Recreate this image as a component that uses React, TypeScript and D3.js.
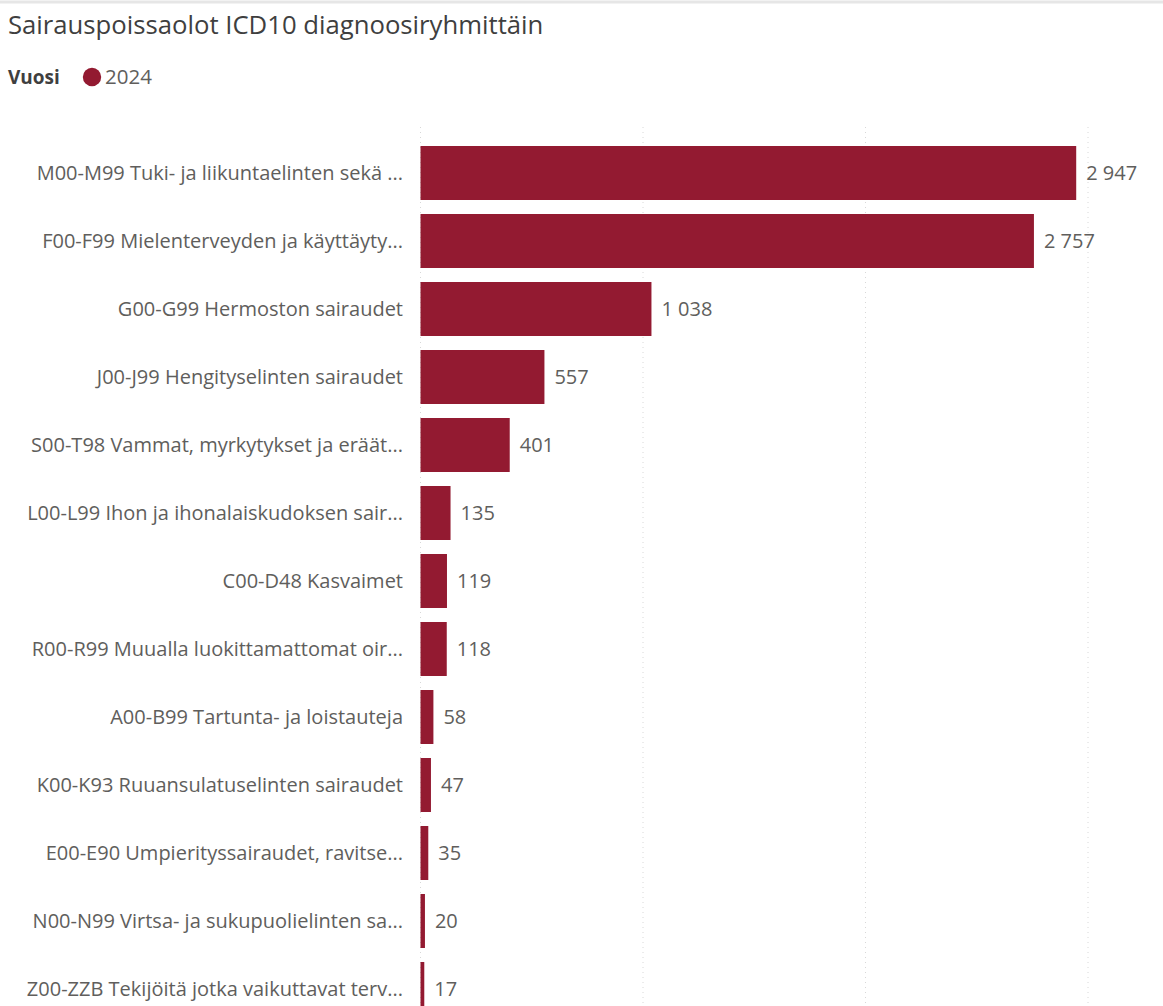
import React from "react";
import * as d3 from "d3";

const title = "Sairauspoissaolot ICD10 diagnoosiryhmittäin";
const legendTitle = "Vuosi";
const seriesName = "2024";

const categories = [
  "M00-M99 Tuki- ja liikuntaelinten sekä ...",
  "F00-F99 Mielenterveyden ja käyttäyty...",
  "G00-G99 Hermoston sairaudet",
  "J00-J99 Hengityselinten sairaudet",
  "S00-T98 Vammat, myrkytykset ja eräät...",
  "L00-L99 Ihon ja ihonalaiskudoksen sair...",
  "C00-D48 Kasvaimet",
  "R00-R99 Muualla luokittamattomat oir...",
  "A00-B99 Tartunta- ja loistauteja",
  "K00-K93 Ruuansulatuselinten sairaudet",
  "E00-E90 Umpierityssairaudet, ravitse...",
  "N00-N99 Virtsa- ja sukupuolielinten sa...",
  "Z00-ZZB Tekijöitä jotka vaikuttavat terv...",
];
const values = [2947, 2757, 1038, 557, 401, 135, 119, 118, 58, 47, 35, 20, 17];
const gridTicks = [0, 1000, 2000, 3000];

const W = 1163;
const H = 1006;
const BAR = "#931a31";
const FONT = "'Segoe UI', 'Open Sans', 'Noto Sans', sans-serif";

export default function App() {
  const x = d3.scaleLinear().domain([0, 3000]).range([420.5, 1088]);
  const y = d3
    .scaleBand<string>()
    .domain(categories)
    .range([139, 139 + 68 * categories.length])
    .paddingInner(0.206)
    .paddingOuter(0.103);
  const fmt = (v: number) => d3.format(",")(v).replace(/,/g, " ");

  return (
    <svg
      width={W}
      height={H}
      style={{ position: "absolute", left: 0, top: 0, background: "#fff" }}
      fontFamily={FONT}
    >
      <line x1={0} x2={W} y1={2} y2={2} stroke="#e6e6e6" strokeWidth={3} />
      <text x={8} y={34} fontSize={25.7} fill="#3f3f3f">
        {title}
      </text>
      <text x={8} y={77} dy="0.35em" fontSize={19} fontWeight="bold" fill="#3f3f3f">
        {legendTitle}
      </text>
      <circle cx={92} cy={77} r={9.2} fill={BAR} />
      <text x={105} y={77} dy="0.35em" fontSize={20.5} fill="#605e5c">
        {seriesName}
      </text>
      {gridTicks.map((t) => (
        <line
          key={t}
          x1={x(t)}
          x2={x(t)}
          y1={127}
          y2={H}
          stroke="#d8d8d8"
          strokeWidth={1}
          strokeDasharray="1 4"
        />
      ))}
      {categories.map((c, i) => {
        const yy = y(c)!;
        const bw = y.bandwidth();
        const cy = yy + bw / 2;
        return (
          <g key={c}>
            <rect x={x(0)} y={yy} width={x(values[i]) - x(0)} height={bw} fill={BAR} />
            <text
              x={403}
              y={cy}
              dy="0.35em"
              textAnchor="end"
              fontSize={20}
              fill="#605e5c"
            >
              {c}
            </text>
            <text x={x(values[i]) + 10} y={cy} dy="0.35em" fontSize={20} fill="#605e5c">
              {fmt(values[i])}
            </text>
          </g>
        );
      })}
    </svg>
  );
}
